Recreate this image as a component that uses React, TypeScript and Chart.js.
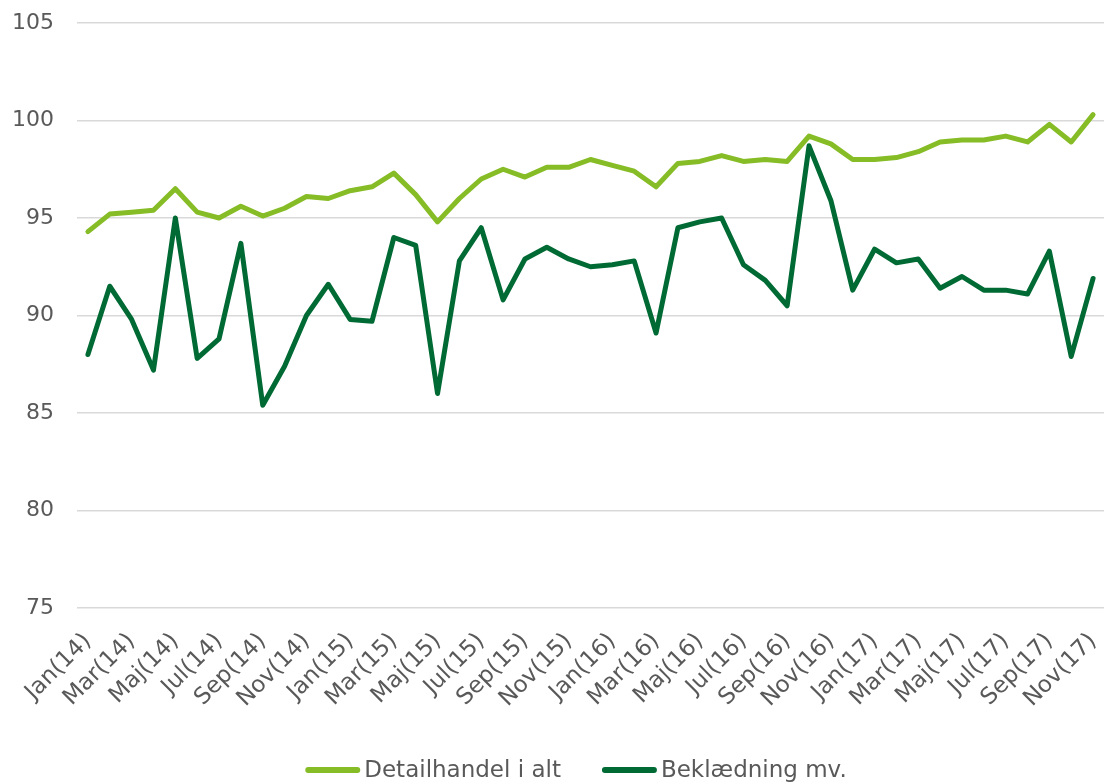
import React, { useEffect, useRef } from "react";
import { Chart, registerables } from "chart.js";

Chart.register(...registerables);

const months = ["Jan", "Feb", "Mar", "Apr", "Maj", "Jun", "Jul", "Aug", "Sep", "Okt", "Nov", "Dec"];
const years = ["14", "15", "16", "17"];
const categories: string[] = [];
for (const y of years) for (const m of months) categories.push(`${m}(${y})`);
const labels = categories.slice(0, 47);

const detailhandel = [
  94.3, 95.2, 95.3, 95.4, 96.5, 95.3, 95.0, 95.6, 95.1, 95.5, 96.1, 96.0,
  96.4, 96.6, 97.3, 96.2, 94.8, 96.0, 97.0, 97.5, 97.1, 97.6, 97.6, 98.0,
  97.7, 97.4, 96.6, 97.8, 97.9, 98.2, 97.9, 98.0, 97.9, 99.2, 98.8, 98.0,
  98.0, 98.1, 98.4, 98.9, 99.0, 99.0, 99.2, 98.9, 99.8, 98.9, 100.3,
];
const beklaedning = [
  88.0, 91.5, 89.8, 87.2, 95.0, 87.8, 88.8, 93.7, 85.4, 87.4, 90.0, 91.6,
  89.8, 89.7, 94.0, 93.6, 86.0, 92.8, 94.5, 90.8, 92.9, 93.5, 92.9, 92.5,
  92.6, 92.8, 89.1, 94.5, 94.8, 95.0, 92.6, 91.8, 90.5, 98.7, 95.9, 91.3,
  93.4, 92.7, 92.9, 91.4, 92.0, 91.3, 91.3, 91.1, 93.3, 87.9, 91.9,
];
const seriesNames = ["Detailhandel i alt", "Beklædning mv."];
const seriesColors = ["#86BC25", "#006A35"];

const FONT = '"DejaVu Sans", Verdana, sans-serif';
const TEXT = "#595959";

const bottomLegend = {
  id: "bottomLegend",
  afterDraw(chart: any) {
    const ctx = chart.ctx as CanvasRenderingContext2D;
    ctx.save();
    ctx.font = `23px ${FONT}`;
    const lineLen = 55;
    const gapText = 4;
    const gapItem = 41;
    const items = chart.data.datasets.map((ds: any) => ({
      label: ds.label,
      color: ds.borderColor,
      w: ctx.measureText(ds.label).width,
    }));
    const total =
      items.reduce((s: number, it: any) => s + lineLen + gapText + it.w, 0) +
      gapItem * (items.length - 1);
    let x = 576 - total / 2;
    const y = 770;
    for (const it of items) {
      ctx.strokeStyle = it.color;
      ctx.lineWidth = 6;
      ctx.lineCap = "round";
      ctx.beginPath();
      ctx.moveTo(x + 3, y);
      ctx.lineTo(x + lineLen - 3, y);
      ctx.stroke();
      ctx.fillStyle = TEXT;
      ctx.textAlign = "left";
      ctx.textBaseline = "middle";
      ctx.fillText(it.label, x + lineLen + gapText, y + 1);
      x += lineLen + gapText + it.w + gapItem;
    }
    ctx.restore();
  },
};

export default function App() {
  const ref = useRef<HTMLCanvasElement>(null);
  useEffect(() => {
    if (!ref.current) return;
    const chart = new Chart(ref.current, {
      type: "line",
      data: {
        labels,
        datasets: [
          {
            label: seriesNames[0],
            data: detailhandel,
            borderColor: seriesColors[0],
            backgroundColor: seriesColors[0],
            borderWidth: 5,
            pointRadius: 0,
            tension: 0,
            borderJoinStyle: "round",
            borderCapStyle: "round",
          },
          {
            label: seriesNames[1],
            data: beklaedning,
            borderColor: seriesColors[1],
            backgroundColor: seriesColors[1],
            borderWidth: 5,
            pointRadius: 0,
            tension: 0,
            borderJoinStyle: "round",
            borderCapStyle: "round",
          },
        ],
      },
      options: {
        responsive: false,
        animation: false,
        devicePixelRatio: 1,
        layout: { padding: { top: 23, left: 0, right: 0, bottom: 0 } },
        plugins: {
          legend: { display: false },
          tooltip: { enabled: false },
        },
        scales: {
          x: {
            offset: true,
            grid: { display: false, drawTicks: false },
            border: { display: false },
            ticks: {
              autoSkip: false,
              minRotation: 45,
              maxRotation: 45,
              padding: 20,
              color: TEXT,
              font: { family: FONT, size: 23 },
              callback: (_v: any, i: number) => (i % 2 === 0 ? labels[i] : ""),
            },
            afterFit: (s: any) => {
              s.height = 175;
              s.paddingLeft = 0;
              s.paddingRight = 0;
            },
          },
          y: {
            min: 75,
            max: 105,
            grid: { color: "#d9d9d9", lineWidth: 1.5, drawTicks: false },
            border: { display: false },
            ticks: {
              stepSize: 5,
              padding: 23,
              color: TEXT,
              font: { family: FONT, size: 22 },
            },
            afterFit: (s: any) => {
              s.width = 77;
              s.paddingTop = 0;
              s.paddingBottom = 0;
            },
          },
        },
      },
      plugins: [bottomLegend],
    });
    return () => chart.destroy();
  }, []);
  return (
    <div style={{ position: "absolute", left: 0, top: 0, width: 1104, height: 783, overflow: "hidden", background: "#fff" }}>
      <canvas ref={ref} width={1104} height={783} style={{ display: "block" }} />
    </div>
  );
}
